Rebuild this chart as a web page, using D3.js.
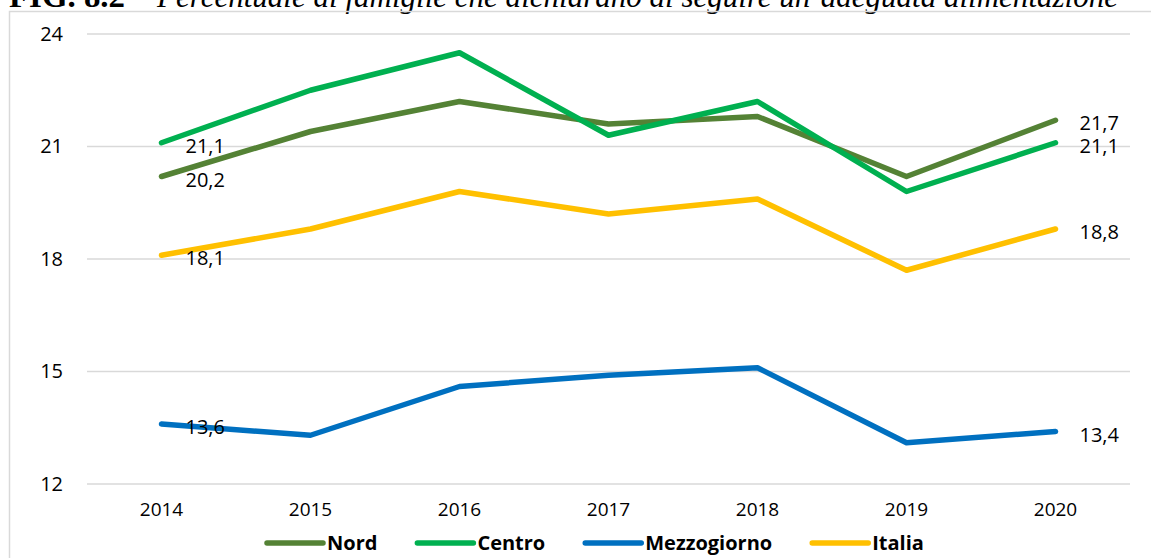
<!DOCTYPE html>
<html>
<head>
<meta charset="utf-8">
<script src="https://cdn.jsdelivr.net/npm/d3@7"></script>
<style>
  body { margin: 0; background: #fff; overflow: hidden; }
  svg { display: block; }
</style>
</head>
<body>
<svg id="chart" width="1151" height="558"></svg>
<script>
// data
var years = ["2014", "2015", "2016", "2017", "2018", "2019", "2020"];
var nord = [20.2, 21.4, 22.2, 21.6, 21.8, 20.2, 21.7];
var centro = [21.1, 22.5, 23.5, 21.3, 22.2, 19.8, 21.1];
var mezzogiorno = [13.6, 13.3, 14.6, 14.9, 15.1, 13.1, 13.4];
var italia = [18.1, 18.8, 19.8, 19.2, 19.6, 17.7, 18.8];
var yTicks = [12, 15, 18, 21, 24];

var series = [
  {name: "Nord", values: nord, color: "#548235"},
  {name: "Centro", values: centro, color: "#00B050"},
  {name: "Mezzogiorno", values: mezzogiorno, color: "#0070C0"},
  {name: "Italia", values: italia, color: "#FFC000"}
];

var svg = d3.select("#chart");
var font = "'Open Sans', 'Noto Sans', sans-serif";

// title (cut at top like the original)
var title = svg.append("text")
    .attr("x", 9)
    .attr("y", 7)
    .style("font-family", "'Liberation Serif', 'DejaVu Serif', serif")
    .style("font-size", "32px")
    .style("fill", "#000");
title.append("tspan")
    .style("font-weight", "bold")
    .attr("textLength", 116)
    .attr("lengthAdjust", "spacingAndGlyphs")
    .text("FIG. 8.2");
title.append("tspan")
    .attr("x", 157)
    .style("font-style", "italic")
    .attr("textLength", 961)
    .attr("lengthAdjust", "spacingAndGlyphs")
    .text("Percentuale di famiglie che dichiarano di seguire un\u2019adeguata alimentazione");

// chart frame
svg.append("rect")
    .attr("x", 9.5).attr("y", 11.5)
    .attr("width", 1200).attr("height", 600)
    .attr("fill", "none")
    .attr("stroke", "#d9d9d9")
    .attr("stroke-width", 1.5);

var margin = {left: 87, right: 21, top: 34, bottom: 74};
var width = 1151 - margin.left - margin.right,
    height = 558 - margin.top - margin.bottom;

var x = d3.scaleBand().domain(years).range([0, width]);
var y = d3.scaleLinear().domain([12, 24]).range([height, 0]);

var g = svg.append("g")
    .attr("transform", "translate(" + margin.left + "," + margin.top + ")");

// gridlines
g.selectAll(".grid")
  .data(yTicks)
  .enter().append("line")
    .attr("class", "grid")
    .attr("x1", 0).attr("x2", width)
    .attr("y1", function(d) { return y(d); })
    .attr("y2", function(d) { return y(d); })
    .attr("stroke", "#d9d9d9")
    .attr("stroke-width", 1.4);

// y axis labels
var yAxis = g.append("g")
    .call(d3.axisLeft(y).tickValues(yTicks).tickSize(0).tickPadding(24));
yAxis.select(".domain").remove();
yAxis.selectAll("text")
    .style("font-family", font)
    .style("font-size", "20px")
    .style("fill", "#000");

// x axis labels
var xAxis = g.append("g")
    .attr("transform", "translate(0," + height + ")")
    .call(d3.axisBottom(x).tickSize(0).tickPadding(19));
xAxis.select(".domain").remove();
xAxis.selectAll("text")
    .style("font-family", font)
    .style("font-size", "19px")
    .style("fill", "#000");

var cx = function(d, i) { return x(years[i]) + x.bandwidth() / 2; };

var line = d3.line()
    .x(cx)
    .y(function(d) { return y(d); });

g.selectAll(".series")
  .data(series)
  .enter().append("path")
    .attr("class", "series")
    .attr("d", function(s) { return line(s.values); })
    .attr("fill", "none")
    .attr("stroke", function(s) { return s.color; })
    .attr("stroke-width", 5.5)
    .attr("stroke-linecap", "round")
    .attr("stroke-linejoin", "round");

// data labels at first and last year
series.forEach(function(s) {
  [0, years.length - 1].forEach(function(i) {
    g.append("text")
      .attr("x", cx(null, i) + 24)
      .attr("y", y(s.values[i]) + 3)
      .attr("dy", "0.35em")
      .style("font-family", font)
      .style("font-size", "20px")
      .style("fill", "#000")
      .text(d3.format(".1f")(s.values[i]).replace(".", ","));
  });
});

// legend
var lx = 267, ly = 543;
series.forEach(function(s) {
  svg.append("line")
    .attr("x1", lx).attr("x2", lx + 56)
    .attr("y1", ly).attr("y2", ly)
    .attr("stroke", s.color)
    .attr("stroke-width", 5.5)
    .attr("stroke-linecap", "round");
  var t = svg.append("text")
    .attr("x", lx + 60)
    .attr("y", ly)
    .attr("dy", "0.35em")
    .style("font-family", font)
    .style("font-size", "20px")
    .style("font-weight", "bold")
    .style("fill", "#000")
    .text(s.name);
  lx += 60 + t.node().getComputedTextLength() + 40;
});
</script>
</body>
</html>
